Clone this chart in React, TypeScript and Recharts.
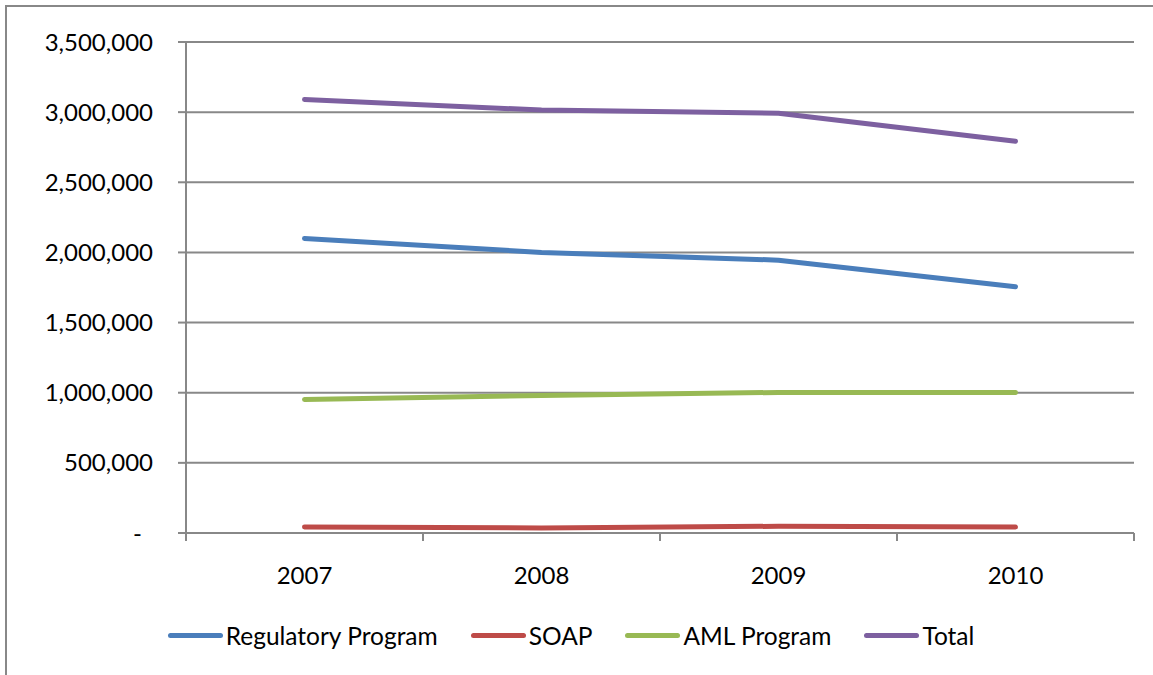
import React from 'react';
import { LineChart, Line, XAxis, YAxis, CartesianGrid, Legend } from 'recharts';

const years = ['2007', '2008', '2009', '2010'];
const regulatory = [2100000, 2000000, 1945000, 1755000];
const soap = [42000, 36000, 48000, 42000];
const aml = [952000, 980000, 1002000, 1002000];
const total = [3090000, 3015000, 2992000, 2792000];
const yTicks = [0, 500000, 1000000, 1500000, 2000000, 2500000, 3000000, 3500000];
const bounds = [0, 1, 2, 3, 4];

const seriesDefs = [
  { key: 'regulatory', name: 'Regulatory Program', color: '#4A7EBB' },
  { key: 'soap', name: 'SOAP', color: '#BE4B48' },
  { key: 'aml', name: 'AML Program', color: '#98B954' },
  { key: 'total', name: 'Total', color: '#7D60A0' },
];

const data = years.map((y, i) => ({
  year: y,
  pos: i + 0.5,
  regulatory: regulatory[i],
  soap: soap[i],
  aml: aml[i],
  total: total[i],
}));

const FONT = 'Lato, "Open Sans", sans-serif';

const fmt = (v: number) => (v === 0 ? '-' : v.toLocaleString('en-US'));

const YTick = (props: any) => {
  const { x, y, payload } = props;
  const v = payload.value;
  return (
    <text x={v === 0 ? x - 11 : x} y={y} dy="0.36em" textAnchor="end" fontSize={24} fill="#000" fontFamily={FONT}>
      {fmt(v)}
    </text>
  );
};

const XTick = (props: any) => {
  const { x, y, payload } = props;
  const idx = Math.round(payload.value - 0.5);
  return (
    <text x={x} y={y} dy="0.71em" textAnchor="middle" fontSize={24} fill="#000" fontFamily={FONT}>
      {years[idx]}
    </text>
  );
};

const EmptyTick = () => <g />;

const LegendContent = () => (
  <div style={{ display: 'flex', justifyContent: 'center', alignItems: 'center', fontFamily: FONT, fontSize: 24.5, color: '#000', paddingLeft: 8 }}>
    {seriesDefs.map((s, i) => (
      <div key={s.key} style={{ display: 'flex', alignItems: 'center', marginRight: i < seriesDefs.length - 1 ? 33 : 0 }}>
        <div style={{ width: 55, height: 5, borderRadius: 3, background: s.color, marginRight: 3 }} />
        <span>{s.name}</span>
      </div>
    ))}
  </div>
);

export default function App() {
  return (
    <div style={{ position: 'absolute', left: 0, top: 0, width: 1153, height: 675, background: '#fff' }}>
      <div style={{ position: 'absolute', left: 5, top: 5, right: 0, bottom: 0, borderLeft: '2px solid #888', borderTop: '2px solid #888' }} />
      <LineChart
        width={1153}
        height={675}
        data={data}
        margin={{ top: 42, right: 19, left: 0, bottom: 4 }}
        style={{ position: 'absolute', left: 0, top: 0 }}
      >
        <CartesianGrid vertical={false} stroke="#888" strokeWidth={2} />
        <XAxis
          xAxisId="bounds"
          type="number"
          dataKey="pos"
          domain={[0, 4]}
          ticks={bounds}
          tick={<EmptyTick />}
          tickSize={8}
          height={1}
          axisLine={{ stroke: '#888', strokeWidth: 2 }}
          tickLine={{ stroke: '#888', strokeWidth: 2 }}
        />
        <XAxis
          xAxisId="main"
          type="number"
          dataKey="pos"
          domain={[0, 4]}
          ticks={[0.5, 1.5, 2.5, 3.5]}
          tick={<XTick />}
          tickLine={false}
          axisLine={false}
          tickSize={0}
          tickMargin={33}
          height={87}
        />
        <YAxis
          domain={[0, 3500000]}
          ticks={yTicks}
          width={186}
          tick={<YTick />}
          tickSize={8}
          tickMargin={25}
          axisLine={{ stroke: '#888', strokeWidth: 2 }}
          tickLine={{ stroke: '#888', strokeWidth: 2 }}
          interval={0}
        />
        <Legend verticalAlign="bottom" height={50} content={<LegendContent />} />
        {seriesDefs.map((s) => (
          <Line
            key={s.key}
            xAxisId="main"
            type="linear"
            dataKey={s.key}
            name={s.name}
            stroke={s.color}
            strokeWidth={5}
            strokeLinecap="round"
            strokeLinejoin="round"
            dot={false}
            activeDot={false}
            isAnimationActive={false}
          />
        ))}
      </LineChart>
    </div>
  );
}
